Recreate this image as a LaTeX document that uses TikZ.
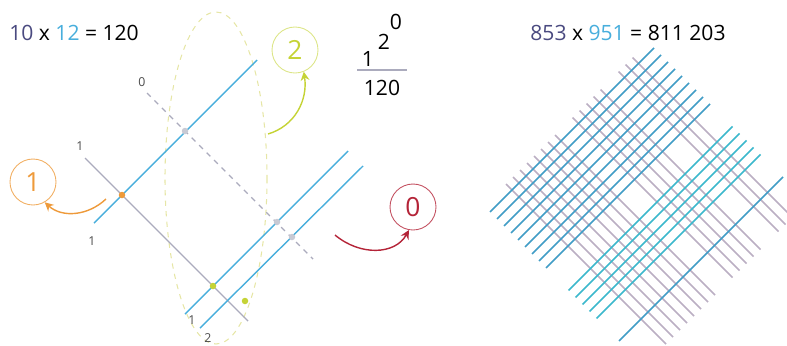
\documentclass[tikz,border=0pt]{standalone}
\usepackage{fontspec}
\setmainfont{Open Sans}
\usetikzlibrary{arrows.meta}
\definecolor{slate}{HTML}{4A4A80}
\definecolor{sky}{HTML}{48AEDC}
\definecolor{midcyan}{HTML}{3CB8CC}
\definecolor{mauve}{HTML}{BBAFC3}
\definecolor{lgray}{HTML}{ABABBD}
\definecolor{dotgray}{HTML}{C8CAD4}
\definecolor{onecol}{HTML}{EE9A3A}
\definecolor{twocol}{HTML}{C5D335}
\definecolor{zerocol}{HTML}{B42438}
\definecolor{ovalcol}{HTML}{E6E6A6}

\begin{document}
\begin{tikzpicture}[x=0.02cm, y=-0.02cm,
  eqtxt/.style={font=\fontsize{12}{14}\selectfont, inner sep=0pt},
  small/.style={font=\fontsize{7}{8}\selectfont, text=black!70, inner sep=0pt},
  digcirc/.style={circle, draw, line width=0.5pt, minimum size=0.92cm, inner sep=0pt, font=\fontsize{15}{16}\selectfont},
  grayln/.style={draw=lgray, line width=0.8pt},
  blueln/.style={draw=sky, line width=0.8pt},
  dot/.style={circle, minimum size=0.13cm, inner sep=0pt},
  arr/.style={-{Stealth[length=5pt, width=5pt]}, line width=0.8pt},
  lattgray/.style={draw=mauve, line width=0.85pt},
  lattblue/.style={draw=sky!90!black, line width=0.85pt}
]
\useasboundingbox (0,0) rectangle (787,345);

% Left equation
\node[eqtxt, anchor=west] (eqa) at (9,33) {\textcolor{slate}{10} x \textcolor{sky}{12} = 120};

% Oval around the tens
\draw[ovalcol, dashed, line width=0.6pt] (216,178) ellipse [x radius=51, y radius=166];

% Lines for 10
\draw[grayln] (85,158) -- (248,321);
\draw[grayln, dashed] (147,93) -- (313,259);

% Lines for 12
\draw[blueln] (94,223) -- (257,60);
\draw[blueln] (185,314) -- (348,151);
\draw[blueln] (200,328) -- (363,166);

% Digit labels
\node[small] (t0) at (142,82) {0};
\node[small] (t1) at (80,146) {1};
\node[small] (u1) at (92,241) {1};
\node[small] (v1) at (192,320) {1};
\node[small] (v2) at (208,338) {2};

% Crossings
\node[dot, fill=onecol] (x1) at (122,195) {};
\node[dot, fill=dotgray] (x2) at (185,131) {};
\node[dot, fill=twocol] (x3) at (213,286) {};
\node[dot, fill=dotgray] (x4) at (277,222) {};
\node[dot, fill=dotgray] (x5) at (292,237) {};
\node[dot, fill=twocol] (x6) at (245,301) {};

% Circled digits
\node[digcirc, draw=onecol!80, text=onecol] (c1) at (33,182) {1};
\node[digcirc, draw=twocol!60, text=twocol] (c2) at (295,50) {2};
\node[digcirc, draw=zerocol!80, text=zerocol] (c0) at (413,207) {0};

% Arrows
\coordinate (s1) at (106,199);
\coordinate (s2) at (268,134);
\coordinate (s0) at (335,235);
\draw[arr, onecol] (s1) .. controls (88,216) and (62,218) .. (c1.-60);
\draw[arr, twocol] (s2) .. controls (295,126) and (308,100) .. (c2.-68);
\draw[arr, zerocol] (s0) .. controls (360,256) and (395,255) .. (c0.-100);

% Result as carries
\node[eqtxt] (f1) at (368,59) {1};
\node[eqtxt] (f2) at (384,42) {2};
\node[eqtxt] (f0) at (396,22) {0};
\draw[lgray, line width=0.6pt] (357,70) -- (407,70);
\node[eqtxt] (fr) at (382,88) {120};

% Right equation
\node[eqtxt] (eqb) at (628,33) {\textcolor{slate}{853} x \textcolor{sky}{951} = 811 203};

% Lattice for 853
\foreach \b in {322,336,...,420}
  \draw[lattgray] ({(690+\b)/2},{(690-\b)/2}) -- ({(1010+\b)/2},{(1010-\b)/2});
\foreach \b in {455,469,...,511}
  \draw[lattgray] ({(690+\b)/2},{(690-\b)/2}) -- ({(1010+\b)/2},{(1010-\b)/2});
\foreach \b in {547,561,575}
  \draw[lattgray] ({(690+\b)/2},{(690-\b)/2}) -- ({(1010+\b)/2},{(1010-\b)/2});

% Lattice for 951
\foreach \a in {702,716,...,814}
  \draw[lattblue] ({(\a+278)/2},{(\a-278)/2}) -- ({(\a+606)/2},{(\a-606)/2});
\foreach \a in {859,873,...,915}
  \draw[lattblue, draw=midcyan] ({(\a+278)/2},{(\a-278)/2}) -- ({(\a+606)/2},{(\a-606)/2});
\foreach \a in {960}
  \draw[lattblue] ({(\a+278)/2},{(\a-278)/2}) -- ({(\a+606)/2},{(\a-606)/2});
\end{tikzpicture}
\end{document}
